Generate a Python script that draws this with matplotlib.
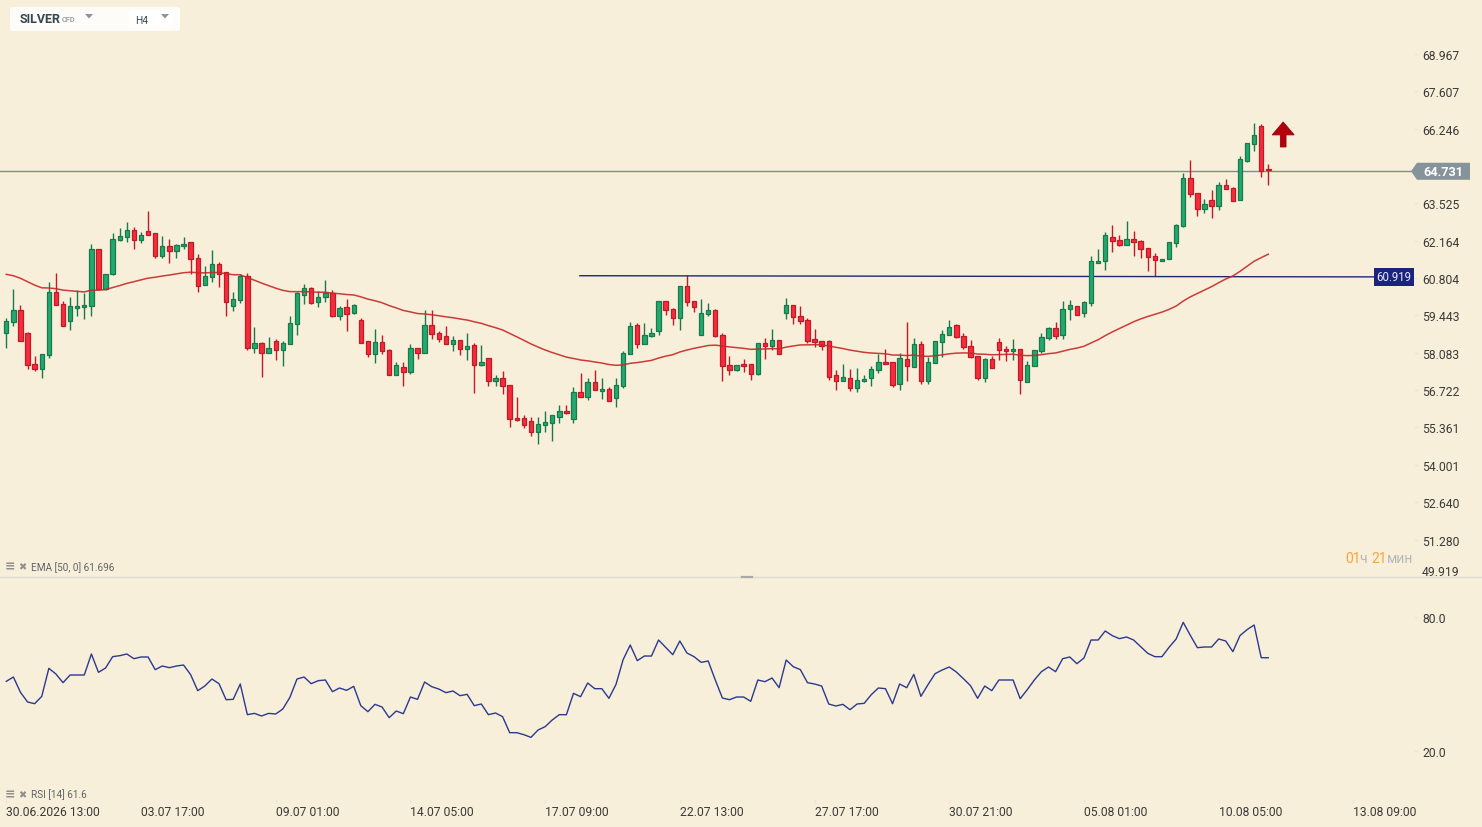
import matplotlib
matplotlib.use('Agg')
import matplotlib.pyplot as plt
from matplotlib.patches import Polygon, FancyBboxPatch, Rectangle
from matplotlib.lines import Line2D
from matplotlib.transforms import Affine2D
import numpy as np

plt.rcParams['font.family'] = ['Roboto', 'DejaVu Sans']

W, H = 1482, 828
BG = '#f7efd9'

# ---------------- data ----------------
opens = [58.80, 59.20, 59.64, 58.80, 57.67, 57.49, 58.00, 60.29, 59.86, 59.24,
         59.71, 59.75, 59.78, 61.86, 60.40, 60.95, 62.19, 62.30, 62.55, 62.19,
         62.51, 62.44, 61.60, 61.97, 61.79, 61.97, 62.11, 61.53, 60.55, 60.84,
         61.31, 61.02, 59.78, 60.00, 60.88, 58.24, 58.43, 58.06, 58.51, 58.17,
         58.39, 59.13, 60.18, 60.44, 59.93, 60.11, 60.26, 59.44, 59.75, 59.53,
         59.27, 58.51, 58.04, 58.47, 58.18, 57.26, 57.56, 57.37, 58.26, 58.07,
         59.09, 58.80, 58.69, 58.40, 58.55, 58.22, 58.37, 57.64, 57.89, 57.05,
         57.16, 56.91, 55.71, 55.71, 55.60, 55.20, 55.45, 55.53, 55.74, 55.96,
         55.67, 56.65, 56.47, 57.02, 56.69, 56.76, 56.44, 56.87, 58.04, 59.09,
         58.40, 58.69, 58.87, 59.97, 59.68, 59.35, 60.51, 59.97, 58.73, 59.49,
         59.64, 58.73, 57.64, 57.45, 57.67, 57.67, 57.31, 58.44, 58.33, 58.55,
         59.53, 59.82, 59.42, 59.27, 58.58, 58.51, 58.51, 57.27, 57.05, 57.16,
         56.80, 57.05, 57.16, 57.45, 57.75, 57.75, 56.95, 57.85, 57.56, 58.40,
         57.05, 57.71, 58.47, 58.73, 59.09, 58.69, 58.33, 57.96, 57.16, 57.85,
         58.47, 58.22, 58.15, 58.22, 57.02, 57.60, 58.15, 58.62, 58.98, 58.73,
         59.68, 59.78, 59.53, 59.89, 61.35, 61.42, 62.30, 62.19, 62.00, 62.22,
         62.15, 61.90, 61.60, 61.42, 61.50, 62.08, 62.70, 64.44, 63.90, 63.31,
         63.64, 63.42, 64.19, 64.08, 63.64, 65.06, 65.68, 66.34, 64.77]
highs = [59.36, 60.41, 59.83, 58.84, 57.96, 58.04, 60.67, 61.00, 59.98, 60.12,
         60.38, 60.27, 62.05, 61.86, 60.95, 62.45, 62.63, 62.85, 62.67, 62.49,
         63.25, 62.44, 62.34, 62.22, 62.04, 62.31, 62.11, 61.69, 61.25, 61.83,
         61.40, 61.04, 60.29, 60.95, 60.99, 59.03, 58.46, 58.66, 58.58, 58.50,
         59.43, 60.29, 60.58, 60.47, 60.33, 60.73, 60.37, 59.78, 60.05, 59.86,
         59.35, 58.51, 58.95, 58.73, 58.22, 57.75, 57.75, 58.40, 58.26, 59.64,
         59.64, 58.87, 59.06, 58.69, 58.55, 58.80, 58.44, 58.37, 57.89, 57.27,
         57.42, 56.91, 56.47, 55.82, 55.74, 55.74, 55.96, 55.82, 56.18, 56.18,
         56.84, 57.35, 57.16, 57.45, 57.16, 56.84, 57.16, 58.15, 59.20, 59.17,
         59.17, 58.98, 59.97, 59.97, 59.71, 60.51, 60.91, 59.97, 60.04, 59.89,
         59.68, 58.80, 57.97, 57.64, 57.86, 57.67, 58.44, 58.62, 58.95, 58.55,
         60.08, 59.82, 59.78, 59.35, 58.95, 58.51, 58.55, 57.45, 57.67, 57.49,
         57.53, 57.27, 57.60, 58.04, 58.22, 57.75, 58.07, 59.20, 58.62, 58.51,
         57.93, 58.51, 58.91, 59.27, 59.13, 58.80, 58.55, 57.96, 57.89, 57.96,
         58.62, 58.33, 58.58, 58.22, 57.78, 58.18, 58.80, 59.02, 59.20, 59.97,
         60.00, 59.78, 59.97, 61.60, 61.86, 62.48, 62.73, 62.37, 62.88, 62.51,
         62.19, 61.90, 61.71, 61.50, 62.11, 62.77, 64.63, 65.10, 63.90, 63.68,
         64.01, 64.30, 64.41, 64.12, 65.24, 65.72, 66.44, 66.40, 64.95]
lows = [58.24, 59.04, 58.51, 57.48, 57.41, 57.15, 57.88, 59.82, 59.06, 58.90,
        59.41, 59.30, 59.44, 60.40, 60.37, 60.90, 62.14, 62.11, 61.88, 62.10,
        62.37, 61.55, 61.55, 61.34, 61.52, 61.88, 60.95, 60.28, 60.55, 60.66,
        60.48, 59.44, 59.59, 59.88, 58.17, 58.06, 57.19, 58.06, 57.81, 57.59,
        58.39, 58.72, 59.86, 59.86, 59.74, 59.93, 59.37, 59.26, 58.87, 59.49,
        58.44, 57.93, 57.70, 58.04, 57.26, 57.26, 56.87, 57.31, 57.84, 58.07,
        58.58, 58.47, 58.40, 58.15, 58.00, 57.82, 56.61, 57.60, 56.87, 56.87,
        56.58, 55.38, 55.60, 55.34, 55.05, 54.76, 55.20, 54.87, 55.53, 55.85,
        55.53, 56.47, 56.36, 56.73, 56.40, 56.33, 56.11, 56.80, 58.04, 58.26,
        58.40, 58.66, 58.73, 59.46, 59.09, 58.91, 59.78, 59.57, 58.73, 59.42,
        58.66, 57.06, 57.27, 57.42, 57.38, 57.09, 57.27, 57.86, 58.18, 58.04,
        59.31, 59.13, 59.13, 58.44, 58.29, 58.18, 57.09, 56.73, 57.05, 56.69,
        56.65, 57.02, 56.87, 57.35, 57.67, 56.84, 56.73, 57.05, 57.56, 56.95,
        56.95, 57.71, 57.93, 58.73, 58.62, 58.22, 57.89, 57.09, 57.02, 57.53,
        57.82, 57.78, 57.82, 56.58, 57.02, 57.60, 58.07, 58.55, 58.58, 58.58,
        59.28, 59.46, 59.38, 59.78, 61.35, 61.09, 61.75, 61.97, 62.00, 61.60,
        61.53, 61.06, 60.88, 61.42, 61.50, 61.93, 62.66, 63.75, 63.06, 63.17,
        62.99, 63.28, 64.04, 63.61, 63.64, 65.03, 65.43, 64.47, 64.21]
closes = [59.24, 59.64, 58.51, 57.64, 57.49, 58.04, 60.29, 59.82, 59.06, 59.78,
          59.78, 59.82, 61.86, 60.40, 60.95, 62.22, 62.33, 62.55, 62.19, 62.37,
          62.37, 61.60, 61.97, 61.79, 62.00, 62.04, 61.49, 60.51, 60.88, 61.31,
          60.97, 59.93, 60.04, 60.88, 58.24, 58.43, 58.06, 58.24, 58.17, 58.43,
          59.17, 60.26, 60.44, 59.88, 60.11, 60.26, 59.44, 59.71, 59.49, 59.82,
          58.44, 58.04, 58.47, 58.15, 57.26, 57.64, 57.37, 58.26, 58.07, 59.09,
          58.76, 58.58, 58.40, 58.55, 58.22, 58.33, 57.64, 57.75, 57.05, 57.16,
          56.87, 55.67, 55.63, 55.45, 55.20, 55.49, 55.56, 55.82, 55.96, 55.89,
          56.65, 56.47, 57.02, 56.73, 56.76, 56.33, 56.91, 58.07, 59.06, 58.40,
          58.73, 58.80, 59.97, 59.64, 59.35, 60.51, 59.93, 59.75, 59.53, 59.64,
          58.69, 57.60, 57.45, 57.64, 57.60, 57.31, 58.44, 58.33, 58.55, 58.04,
          59.82, 59.38, 59.24, 58.51, 58.47, 58.33, 57.20, 57.05, 57.20, 56.80,
          57.09, 57.13, 57.49, 57.75, 57.67, 56.91, 57.89, 57.60, 58.40, 57.05,
          57.75, 58.51, 58.77, 59.02, 58.66, 58.29, 57.93, 57.16, 57.85, 57.53,
          58.18, 58.15, 58.22, 57.09, 57.64, 58.18, 58.66, 58.98, 58.69, 59.68,
          59.82, 59.46, 59.93, 61.42, 61.42, 62.37, 62.15, 62.00, 62.22, 62.11,
          61.86, 61.57, 61.46, 61.50, 62.11, 62.73, 64.44, 63.86, 63.31, 63.50,
          63.42, 64.19, 64.04, 63.61, 65.13, 65.72, 66.01, 64.72, 64.731]
rsi_values = [51.08, 53.02, 46.18, 41.86, 41.12, 44.39, 56.88, 54.35, 50.49, 53.91,
              53.91, 53.91, 63.28, 55.10, 57.03, 62.09, 62.53, 63.28, 61.19, 61.94,
              61.94, 56.29, 57.92, 57.18, 57.92, 58.37, 54.06, 46.92, 49.00, 52.12,
              50.04, 42.90, 43.05, 49.89, 36.21, 36.80, 35.62, 36.80, 36.51, 38.74,
              43.94, 52.12, 53.02, 50.04, 51.38, 51.68, 46.47, 48.11, 47.07, 48.85,
              40.23, 37.55, 40.82, 39.63, 34.87, 37.85, 36.66, 44.09, 43.05, 50.78,
              48.70, 47.66, 46.03, 46.77, 44.69, 45.28, 40.23, 40.97, 36.21, 36.96,
              35.32, 28.18, 28.18, 27.29, 26.10, 29.37, 30.86, 33.83, 36.21, 36.21,
              45.73, 44.24, 50.34, 47.81, 47.81, 43.50, 49.74, 60.75, 67.29, 60.30,
              62.38, 62.38, 69.52, 66.25, 62.98, 69.07, 63.72, 62.09, 59.56, 60.15,
              51.68, 43.65, 42.90, 44.09, 44.09, 42.16, 51.68, 50.93, 52.57, 48.26,
              60.60, 57.62, 56.29, 50.49, 49.89, 49.00, 40.97, 40.08, 40.82, 38.44,
              40.97, 41.27, 45.13, 48.11, 47.81, 41.12, 49.89, 48.26, 54.20, 44.39,
              49.59, 54.50, 56.14, 57.48, 55.24, 52.27, 49.15, 43.50, 49.00, 46.92,
              51.68, 51.68, 51.68, 43.35, 47.36, 51.68, 55.39, 57.48, 55.39, 61.19,
              61.94, 58.96, 61.49, 69.52, 69.52, 73.54, 71.45, 70.12, 70.86, 69.52,
              66.55, 63.57, 62.09, 62.09, 66.25, 69.97, 77.40, 71.60, 66.10, 66.40,
              66.40, 69.97, 69.07, 64.32, 71.45, 74.13, 76.21, 61.64, 61.60]

ema_period = 50
ema_start = 60.94          # EMA value at the first visible candle
last_price = 64.731
last_price_drawn = 64.695  # where the platform draws the price line
level_label = 60.919
level_start, level_end = 60.89, 60.845
level_start_idx = 80.9
price_ticks = [68.967, 67.607, 66.246, 64.886, 63.525, 62.164, 60.804,
               59.443, 58.083, 56.722, 55.361, 54.001, 52.640, 51.280]
bottom_price_tick = 49.919
rsi_ticks = [80.0, 20.0]
date_tick_idx = [0, 19, 38, 57, 76, 95, 114, 133, 152, 171, 190]
date_labels = ['30.06.2026 13:00', '03.07 17:00', '09.07 01:00', '14.07 05:00',
               '17.07 09:00', '22.07 13:00', '27.07 17:00', '30.07 21:00',
               '05.08 01:00', '10.08 05:00', '13.08 09:00']

# ---------------- derived ----------------
o = np.array(opens); h = np.array(highs); l = np.array(lows); c = np.array(closes)
n = len(c)
x = np.arange(n)
alpha = 2.0 / (ema_period + 1)
ema = [ema_start]
for v in c[1:]:
    ema.append(ema[-1] + alpha * (v - ema[-1]))
ema = np.array(ema)

# ---------------- figure ----------------
fig = plt.figure(figsize=(W / 100, H / 100), dpi=100, facecolor=BG)
pix = Affine2D().scale(1.0 / W, -1.0 / H).translate(0, 1) + fig.transFigure

XL = (-0.8886, 198.55)
ax = fig.add_axes([0, 1 - 578 / H, 1414 / W, 578 / H])
ax.set_facecolor('none')
ax.set_xlim(*XL)
ax.set_ylim(49.914, 70.971)
for s in ax.spines.values():
    s.set_visible(False)
ax.set_xticks([])
ax.yaxis.tick_right()
ax.set_yticks(price_ticks)
ax.set_yticklabels(['%.3f' % t for t in price_ticks])
ax.tick_params(axis='y', length=3, width=1, color='#ebe5d5', pad=3,
               labelsize=8.7, labelcolor='#3a3a3a')

GREEN_F, GREEN_E = '#23a86e', '#187a4c'
RED_F, RED_E = '#f52c3b', '#c01a29'
up = c >= o
body_bot = np.minimum(o, c)
body_h = np.maximum(np.abs(c - o), 0.04)
ax.vlines(x[up], l[up], h[up], color=GREEN_E, lw=1, zorder=2)
ax.vlines(x[~up], l[~up], h[~up], color=RED_E, lw=1, zorder=2)
ax.bar(x[up], body_h[up], bottom=body_bot[up], width=0.62, color=GREEN_F,
       edgecolor=GREEN_E, linewidth=0.9, zorder=3)
ax.bar(x[~up], body_h[~up], bottom=body_bot[~up], width=0.62, color=RED_F,
       edgecolor=RED_E, linewidth=0.9, zorder=3)

ax.plot(x, ema, color='#c62828', lw=1.1, zorder=4, alpha=0.9)

# current price line + tag
ax.axhline(last_price_drawn, color='#7f8c95', lw=1, zorder=1)
yt = ax.get_yaxis_transform()
hh = 0.31
yp = last_price_drawn
tag = Polygon([(0.9979, yp), (1.0021, yp + hh), (1.0396, yp + hh),
               (1.0396, yp - hh), (1.0021, yp - hh)],
              closed=True, transform=yt, fc='#87939a', ec='none', clip_on=False, zorder=10)
ax.add_patch(tag)
ax.text(1.0209, yp, '%.3f' % last_price, transform=yt, ha='center', va='center',
        color='white', fontsize=9.2, fontweight='bold', clip_on=False, zorder=11)

ax.text(1.0 + 8 / 1414, bottom_price_tick + 0.18, '%.3f' % bottom_price_tick, transform=yt,
        ha='left', va='center', fontsize=8.7, color='#3a3a3a', clip_on=False)

# level line + tag
ax.plot([level_start_idx, XL[1]], [level_start, level_end], color='#1f2778', lw=1, zorder=2)
ax.text(195.7, level_end, '%.3f' % level_label, ha='center', va='center', fontsize=8.3,
        color='#e8e8ff', zorder=11,
        bbox=dict(boxstyle='square,pad=0.22', fc='#1a237e', ec='none'))

# red arrow
ax.arrow(180.1, 65.58, 0, 0.91, width=0.8, head_width=3.1, head_length=0.47,
         length_includes_head=True, fc='#b3000c', ec='#9a0008', lw=0.6, zorder=6)

# ---------------- RSI panel ----------------
rax = fig.add_axes([0, 1 - 800 / H, 1414 / W, 220 / H])
rax.set_facecolor('none')
rax.set_xlim(*XL)
rax.set_ylim(-1.40, 96.73)
for s in rax.spines.values():
    s.set_visible(False)
rax.plot(x, rsi_values, color='#2b3990', lw=1.0)
rax.yaxis.tick_right()
rax.set_yticks(rsi_ticks)
rax.set_yticklabels(['%.1f' % t for t in rsi_ticks])
rax.tick_params(axis='y', length=3, width=1, color='#ebe5d5', pad=3,
                labelsize=8.7, labelcolor='#3a3a3a')
rax.set_xticks(date_tick_idx)
rax.set_xticklabels(date_labels, ha='left')
rax.tick_params(axis='x', length=3, width=1, color='#ebe5d5', pad=1,
                labelsize=8.7, labelcolor='#3a3a3a')

# ---------------- decorations ----------------
fig.add_artist(Line2D([0, W], [578.3, 578.3], transform=pix, color='#dcd9d0', lw=1))
fig.add_artist(Line2D([742, 752], [578.3, 578.3], transform=pix, color='#a8a8a8', lw=1.6))

# header
fig.add_artist(FancyBboxPatch((10, 8), 170, 24, boxstyle='round,pad=0,rounding_size=3',
                              transform=pix, fc='#fdfcf8', ec='none'))
fig.add_artist(Rectangle((129, 11), 44, 17, transform=pix, fc='#ffffff', ec='none'))
fig.text(20, 19.5, 'SILVER', transform=pix, fontsize=9, fontweight='bold',
         color='#37474f', va='center', ha='left')
fig.text(62, 20.5, 'CFD', transform=pix, fontsize=5.3, fontweight='bold',
         color='#9aa0a6', va='center', ha='left')
fig.add_artist(Polygon([(85, 15), (93, 15), (89, 19.5)], closed=True, transform=pix,
                       fc='#8e949a', ec='none'))
fig.text(135, 20.5, 'H4', transform=pix, fontsize=7.3, color='#37474f',
         va='center', ha='left')
fig.add_artist(Polygon([(161, 15), (169, 15), (165, 19.5)], closed=True, transform=pix,
                       fc='#8e949a', ec='none'))

# indicator labels
for yy, lab in [(567.5, 'EMA [50, 0] 61.696'), (795, 'RSI [14] 61.6')]:
    fig.text(5, yy, '≡', transform=pix, fontsize=9, fontweight='bold', color='#8f8f8f',
             va='center', ha='left')
    fig.text(18, yy, '✖', transform=pix, fontsize=7, color='#8f8f8f',
             va='center', ha='left')
    fig.text(31, yy, lab, transform=pix, fontsize=7.2, color='#5f6368',
             va='center', ha='left')

# countdown
ORANGE, GRAY = '#f7a43c', '#b8b8b8'
t = fig.text(1345, 559, '01', transform=pix, fontsize=10, color=ORANGE,
             va='center', ha='left')
for part, col in [('ч ', GRAY), ('21', ORANGE), ('мин', GRAY)]:
    t = ax.annotate(part, xy=(1, 0), xycoords=t, va='bottom', ha='left',
                    fontsize=10, color=col, annotation_clip=False)

fig.savefig('out.png', dpi=100, facecolor=BG)
